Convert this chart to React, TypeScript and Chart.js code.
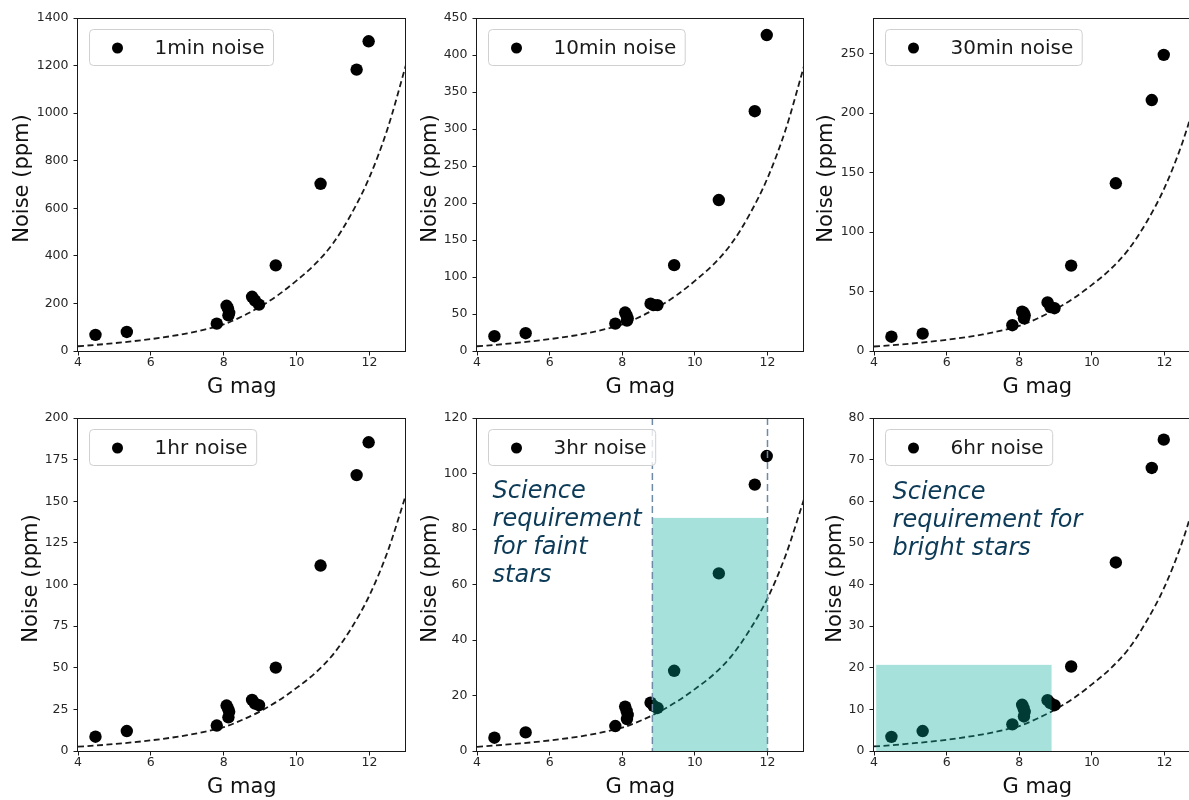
import React, { useEffect, useRef } from 'react';
import { Chart, registerables } from 'chart.js';

Chart.register(...registerables);
Chart.defaults.font.family = '"DejaVu Sans", sans-serif';

// ---- data ----
const starMag = [4.48, 5.34, 7.81, 8.08, 8.12, 8.15, 8.13, 8.78, 8.86, 8.97, 9.43, 10.66, 11.65, 11.98];
const noise1min = [68, 80, 115, 190, 178, 160, 150, 228, 212, 195, 360, 703, 1183, 1302];
const noise10min = [20, 24, 37, 52, 48, 44, 41, 64, 62, 62, 116, 204, 324, 427];
const noise30min = [12, 14.6, 21.7, 33, 32, 30, 27.5, 40.8, 37, 36, 71.8, 141, 211, 249];
const noise1hr = [8.6, 12, 15.3, 27.3, 25.5, 23.6, 20.2, 30.7, 28.5, 27.5, 50.1, 111.4, 165.7, 185.4];
const noise3hr = [4.8, 6.7, 9.0, 16.0, 14.5, 13.0, 11.5, 17.4, 16.3, 15.5, 28.9, 64, 96, 106.3];
const noise6hr = [3.4, 4.8, 6.4, 11.1, 10.3, 9.4, 8.3, 12.2, 11.5, 11.0, 20.3, 45.3, 68, 74.8];

const curveMag = [4, 4.5, 5, 5.5, 6, 6.5, 7, 7.5, 8, 8.5, 9, 9.5, 10, 10.5, 11, 11.5, 12, 12.5, 13];
const curve1min = [20, 26, 33, 41, 50, 61, 74, 91, 112, 145, 186, 236, 296, 364, 452, 575, 730, 935, 1200];
const curve10min = [6.4, 8.3, 10.6, 13.1, 16, 19.5, 23.7, 29.1, 35.8, 46.4, 59.5, 75.5, 94.7, 116.5, 144.6, 184, 233.6, 299.2, 384];
const curve30min = [3.8, 4.9, 6.2, 7.7, 9.4, 11.5, 13.9, 17.1, 21.1, 27.3, 35, 44.4, 55.6, 68.4, 85, 108.1, 137.2, 175.8, 225.6];
const curve1hr = [2.6, 3.3, 4.2, 5.2, 6.4, 7.8, 9.5, 11.6, 14.3, 18.6, 23.8, 30.2, 37.9, 46.6, 57.9, 73.6, 93.4, 119.7, 153.6];
const curve3hr = [1.5, 2.0, 2.5, 3.1, 3.8, 4.6, 5.6, 6.9, 8.4, 10.9, 14.0, 17.8, 22.3, 27.4, 34.1, 43.4, 55, 70.5, 90.5];
const curve6hr = [1.1, 1.4, 1.8, 2.2, 2.7, 3.3, 4.0, 4.9, 6.0, 7.8, 10.0, 12.7, 16.0, 19.7, 24.4, 31.1, 39.4, 50.5, 64.8];

const seriesLabels = ['1min noise', '10min noise', '30min noise', '1hr noise', '3hr noise', '6hr noise'];
const yMaxes = [1400, 450, 280, 200, 120, 80];
const yTickSteps = [200, 50, 50, 25, 20, 10];
const xRange = [4, 13];
const xTickStep = 2;

const faintBox = [8.83, 12.0, 0, 84]; // xMin, xMax, yMin, yMax
const brightBox = [4.06, 8.89, 0, 20.7];
const faintNote = ['Science', 'requirement', 'for faint', 'stars'];
const brightNote = ['Science', 'requirement for', 'bright stars'];
const faintNoteAt = [4.43, 91.1];
const brightNoteAt = [4.51, 60.5];

const xTitle = 'G mag';
const yTitle = 'Noise (ppm)';

// ---- layout (pixels) ----
type Layout = { cl: number; ct: number; L: number; R: number; titleX: number };
const layouts: Layout[] = [
  { cl: 0, ct: 0, L: 78, R: 410, titleX: 23 },
  { cl: 400, ct: 0, L: 477, R: 808, titleX: 31 },
  { cl: 800, ct: 0, L: 874, R: 1205, titleX: 27 },
  { cl: 0, ct: 400, L: 78, R: 410, titleX: 32 },
  { cl: 400, ct: 400, L: 477, R: 808, titleX: 31 },
  { cl: 800, ct: 400, L: 874, R: 1205, titleX: 36 },
];
const TOP_PAD = 18;
const X_AXIS_H = 49;
const PANEL_H = 400;
const Y_TITLE_SHIFT = -6;

type PanelCfg = {
  label: string;
  stars: number[];
  curve: number[];
  yMax: number;
  yStep: number;
  layout: Layout;
  box?: number[];
  boxLines?: boolean;
  note?: string[];
  noteAt?: number[];
};

const panels: PanelCfg[] = [
  { label: seriesLabels[0], stars: noise1min, curve: curve1min, yMax: yMaxes[0], yStep: yTickSteps[0], layout: layouts[0] },
  { label: seriesLabels[1], stars: noise10min, curve: curve10min, yMax: yMaxes[1], yStep: yTickSteps[1], layout: layouts[1] },
  { label: seriesLabels[2], stars: noise30min, curve: curve30min, yMax: yMaxes[2], yStep: yTickSteps[2], layout: layouts[2] },
  { label: seriesLabels[3], stars: noise1hr, curve: curve1hr, yMax: yMaxes[3], yStep: yTickSteps[3], layout: layouts[3] },
  {
    label: seriesLabels[4], stars: noise3hr, curve: curve3hr, yMax: yMaxes[4], yStep: yTickSteps[4], layout: layouts[4],
    box: faintBox, boxLines: true, note: faintNote, noteAt: faintNoteAt,
  },
  {
    label: seriesLabels[5], stars: noise6hr, curve: curve6hr, yMax: yMaxes[5], yStep: yTickSteps[5], layout: layouts[5],
    box: brightBox, boxLines: false, note: brightNote, noteAt: brightNoteAt,
  },
];

const TICK_COLOR = '#262626';
const LINE_COLOR = '#1a1a1a';

function keepMultiples(step: number) {
  return (axis: any) => {
    axis.ticks = axis.ticks.filter((t: any) => Math.abs(t.value / step - Math.round(t.value / step)) < 1e-6);
  };
}

const plainNumber = (v: any) => String(v);

function Panel({ cfg }: { cfg: PanelCfg }) {
  const ref = useRef<HTMLCanvasElement | null>(null);
  const { cl, ct, L, R, titleX } = cfg.layout;
  const width = R - cl + 2;

  useEffect(() => {
    if (!ref.current) return;

    const overlayPlugin = {
      id: 'overlay',
      afterDatasetsDraw(chart: any) {
        if (!cfg.box) return;
        const { ctx, chartArea: a } = chart;
        const xs = chart.scales.x;
        const ys = chart.scales.y;
        const [x0, x1, y0, y1] = cfg.box;
        const px0 = xs.getPixelForValue(x0);
        const px1 = xs.getPixelForValue(x1);
        const py0 = ys.getPixelForValue(y0);
        const py1 = ys.getPixelForValue(y1);
        ctx.save();
        ctx.beginPath();
        ctx.rect(a.left, a.top, a.right - a.left, a.bottom - a.top);
        ctx.clip();
        ctx.fillStyle = 'rgba(0,172,152,0.35)';
        ctx.fillRect(px0, py1, px1 - px0, py0 - py1);
        if (cfg.boxLines) {
          ctx.strokeStyle = '#6e8aa6';
          ctx.lineWidth = 1.5;
          ctx.setLineDash([7, 4]);
          [px0, px1].forEach((px) => {
            ctx.beginPath();
            ctx.moveTo(px, a.top);
            ctx.lineTo(px, a.bottom);
            ctx.stroke();
          });
        }
        ctx.restore();
      },
    };

    const decorPlugin = {
      id: 'decor',
      afterDraw(chart: any) {
        const { ctx, chartArea: a } = chart;
        ctx.save();
        // frame
        ctx.strokeStyle = LINE_COLOR;
        ctx.lineWidth = 1;
        ctx.setLineDash([]);
        ctx.strokeRect(Math.round(a.left) - 0.5, Math.round(a.top) + 0.5, Math.round(a.right - a.left), Math.round(a.bottom - a.top));
        // y axis title
        ctx.save();
        ctx.translate(titleX, (a.top + a.bottom) / 2 + Y_TITLE_SHIFT);
        ctx.rotate(-Math.PI / 2);
        ctx.font = '21px "DejaVu Sans"';
        ctx.fillStyle = '#111';
        ctx.textAlign = 'center';
        ctx.textBaseline = 'middle';
        ctx.fillText(yTitle, 0, 0);
        ctx.restore();
        // note text
        if (cfg.note && cfg.noteAt) {
          const xs = chart.scales.x;
          const ys = chart.scales.y;
          const nx = xs.getPixelForValue(cfg.noteAt[0]);
          const ny = ys.getPixelForValue(cfg.noteAt[1]);
          ctx.font = 'italic 24px "DejaVu Sans"';
          ctx.fillStyle = '#0d3b57';
          ctx.textAlign = 'left';
          ctx.textBaseline = 'alphabetic';
          cfg.note.forEach((line, i) => ctx.fillText(line, nx, ny + i * 28));
        }
        // legend
        ctx.font = '20px "DejaVu Sans"';
        const tw = ctx.measureText(cfg.label).width;
        const bx = Math.round(a.left) + 11.5;
        const by = Math.round(a.top) + 11.5;
        const bw = tw + 65 + 9;
        const bh = 36;
        const r = 4;
        ctx.beginPath();
        ctx.moveTo(bx + r, by);
        ctx.lineTo(bx + bw - r, by);
        ctx.arcTo(bx + bw, by, bx + bw, by + r, r);
        ctx.lineTo(bx + bw, by + bh - r);
        ctx.arcTo(bx + bw, by + bh, bx + bw - r, by + bh, r);
        ctx.lineTo(bx + r, by + bh);
        ctx.arcTo(bx, by + bh, bx, by + bh - r, r);
        ctx.lineTo(bx, by + r);
        ctx.arcTo(bx, by, bx + r, by, r);
        ctx.closePath();
        ctx.fillStyle = 'rgba(255,255,255,0.8)';
        ctx.fill();
        ctx.strokeStyle = '#d0d0d0';
        ctx.lineWidth = 1;
        ctx.stroke();
        ctx.beginPath();
        ctx.arc(bx + 28, by + 18.5, 5.5, 0, Math.PI * 2);
        ctx.fillStyle = '#000';
        ctx.fill();
        ctx.fillStyle = '#1a1a1a';
        ctx.textAlign = 'left';
        ctx.textBaseline = 'alphabetic';
        ctx.fillText(cfg.label, bx + 65, by + 24);
        ctx.restore();
      },
    };

    const chart = new Chart(ref.current, {
      type: 'scatter',
      data: {
        datasets: [
          {
            type: 'line',
            label: 'model',
            data: curveMag.map((g, i) => ({ x: g, y: cfg.curve[i] })),
            borderColor: LINE_COLOR,
            borderWidth: 1.8,
            borderDash: [6, 3.5],
            pointRadius: 0,
            fill: false,
            cubicInterpolationMode: 'monotone',
            order: 2,
          } as any,
          {
            type: 'scatter',
            label: cfg.label,
            data: starMag.map((g, i) => ({ x: g, y: cfg.stars[i] })),
            backgroundColor: '#000',
            borderWidth: 0,
            pointRadius: 6.2,
            order: 1,
          } as any,
        ],
      },
      options: {
        animation: false,
        responsive: false,
        devicePixelRatio: 1,
        events: [],
        layout: { padding: { top: TOP_PAD, right: 2, left: 0, bottom: 0 } },
        plugins: { legend: { display: false }, tooltip: { enabled: false } },
        scales: {
          x: {
            type: 'linear',
            min: xRange[0],
            max: xRange[1],
            afterFit: (s: any) => { s.height = X_AXIS_H; },
            afterBuildTicks: keepMultiples(xTickStep),
            ticks: { stepSize: xTickStep, font: { size: 12.5 }, color: TICK_COLOR, padding: 0, maxRotation: 0, autoSkip: false, callback: plainNumber },
            grid: { drawOnChartArea: false, tickLength: 4.5, tickColor: LINE_COLOR, color: LINE_COLOR },
            border: { display: false },
            title: { display: true, text: xTitle, font: { size: 21 }, color: '#111', padding: { top: 0, bottom: 0 } },
          },
          y: {
            type: 'linear',
            min: 0,
            max: cfg.yMax,
            afterFit: (s: any) => { s.width = L - cl; },
            afterBuildTicks: keepMultiples(cfg.yStep),
            ticks: { stepSize: cfg.yStep, font: { size: 12.5 }, color: TICK_COLOR, padding: 5, autoSkip: false, callback: plainNumber },
            grid: { drawOnChartArea: false, tickLength: 4.5, tickColor: LINE_COLOR, color: LINE_COLOR },
            border: { display: false },
            title: { display: false, text: yTitle },
          },
        },
      } as any,
      plugins: [overlayPlugin, decorPlugin],
    });
    return () => chart.destroy();
  }, [cfg]);

  return (
    <canvas
      ref={ref}
      width={width}
      height={PANEL_H}
      style={{ position: 'absolute', left: cl, top: ct, width, height: PANEL_H }}
    />
  );
}

export default function App() {
  return (
    <div
      style={{
        position: 'fixed',
        left: 0,
        top: 0,
        width: 1189,
        height: 800,
        overflow: 'hidden',
        background: '#fff',
      }}
    >
      {panels.map((p, i) => (
        <Panel key={i} cfg={p} />
      ))}
    </div>
  );
}
